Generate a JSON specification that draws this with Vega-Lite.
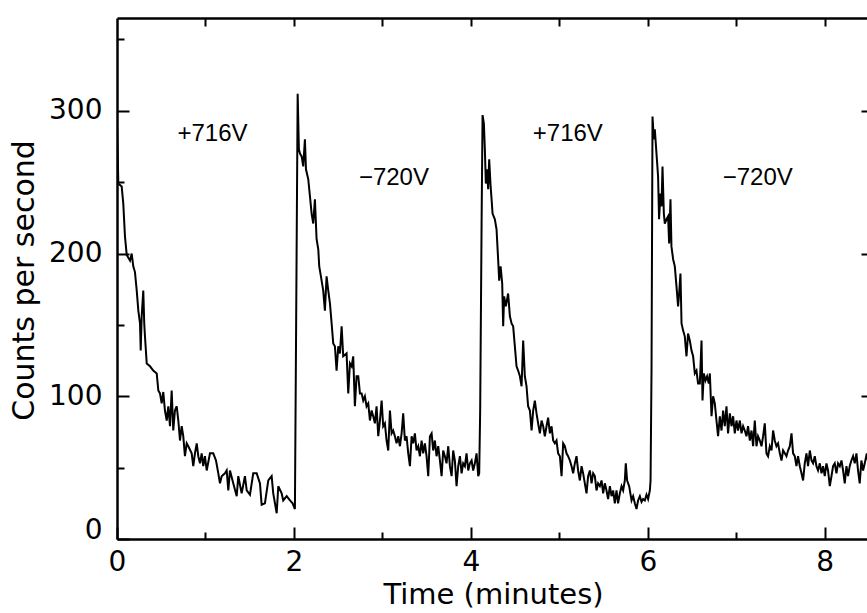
{
  "$schema": "https://vega.github.io/schema/vega-lite/v6.json",
  "autosize": "none",
  "width": 752,
  "height": 521,
  "padding": {"left": 117, "top": 18, "right": 0, "bottom": 74},
  "background": "white",
  "config": {"view": {"stroke": null}},
  "datasets": {
    "series": [
      {"t":0,"c":290},{"t":0.008,"c":270},{"t":0.015,"c":249},{"t":0.053,"c":247},{"t":0.071,"c":235},{"t":0.09,"c":212},{"t":0.11,"c":199},{"t":0.147,"c":195},{"t":0.166,"c":200},{"t":0.184,"c":191},{"t":0.203,"c":187},{"t":0.223,"c":174},{"t":0.241,"c":160},{"t":0.26,"c":151},{"t":0.268,"c":132},{"t":0.279,"c":156},{"t":0.297,"c":174},{"t":0.308,"c":151},{"t":0.316,"c":142},{"t":0.336,"c":123},{"t":0.373,"c":121},{"t":0.41,"c":118},{"t":0.449,"c":116},{"t":0.467,"c":104},{"t":0.486,"c":102},{"t":0.505,"c":95},{"t":0.523,"c":103},{"t":0.542,"c":90},{"t":0.562,"c":83},{"t":0.58,"c":93},{"t":0.599,"c":79},{"t":0.618,"c":104},{"t":0.636,"c":76},{"t":0.655,"c":90},{"t":0.675,"c":93},{"t":0.693,"c":83},{"t":0.712,"c":69},{"t":0.731,"c":79},{"t":0.749,"c":72},{"t":0.768,"c":58},{"t":0.788,"c":67},{"t":0.806,"c":65},{"t":0.844,"c":60},{"t":0.862,"c":51},{"t":0.881,"c":60},{"t":0.901,"c":67},{"t":0.919,"c":58},{"t":0.938,"c":53},{"t":0.957,"c":60},{"t":0.975,"c":51},{"t":0.994,"c":58},{"t":1.014,"c":48},{"t":1.051,"c":60},{"t":1.088,"c":60},{"t":1.119,"c":55},{"t":1.145,"c":46},{"t":1.164,"c":39},{"t":1.183,"c":44},{"t":1.22,"c":46},{"t":1.24,"c":48},{"t":1.258,"c":34},{"t":1.277,"c":48},{"t":1.314,"c":39},{"t":1.353,"c":30},{"t":1.371,"c":44},{"t":1.409,"c":32},{"t":1.446,"c":44},{"t":1.466,"c":34},{"t":1.503,"c":31},{"t":1.54,"c":46},{"t":1.579,"c":46},{"t":1.616,"c":39},{"t":1.635,"c":24},{"t":1.672,"c":25},{"t":1.71,"c":41},{"t":1.748,"c":44},{"t":1.766,"c":32},{"t":1.805,"c":18},{"t":1.823,"c":37},{"t":1.861,"c":32},{"t":1.879,"c":27},{"t":1.918,"c":30},{"t":1.955,"c":27},{"t":1.985,"c":25},{"t":2.011,"c":21},
      {"t":2.042,"c":312},{"t":2.056,"c":273},{"t":2.068,"c":270},{"t":2.087,"c":268},{"t":2.105,"c":261},{"t":2.124,"c":280},{"t":2.136,"c":259},{"t":2.162,"c":252},{"t":2.181,"c":240},{"t":2.2,"c":228},{"t":2.218,"c":221},{"t":2.237,"c":238},{"t":2.256,"c":210},{"t":2.275,"c":203},{"t":2.286,"c":191},{"t":2.305,"c":184},{"t":2.331,"c":174},{"t":2.35,"c":160},{"t":2.369,"c":184},{"t":2.388,"c":174},{"t":2.407,"c":165},{"t":2.426,"c":151},{"t":2.444,"c":137},{"t":2.463,"c":135},{"t":2.482,"c":118},{"t":2.501,"c":135},{"t":2.52,"c":130},{"t":2.539,"c":149},{"t":2.557,"c":128},{"t":2.595,"c":130},{"t":2.614,"c":102},{"t":2.633,"c":123},{"t":2.652,"c":121},{"t":2.67,"c":128},{"t":2.689,"c":93},{"t":2.708,"c":114},{"t":2.727,"c":114},{"t":2.746,"c":102},{"t":2.765,"c":102},{"t":2.783,"c":97},{"t":2.802,"c":100},{"t":2.821,"c":93},{"t":2.84,"c":95},{"t":2.859,"c":83},{"t":2.878,"c":90},{"t":2.896,"c":86},{"t":2.915,"c":81},{"t":2.934,"c":93},{"t":2.953,"c":72},{"t":2.972,"c":83},{"t":2.991,"c":97},{"t":3.009,"c":79},{"t":3.028,"c":81},{"t":3.047,"c":69},{"t":3.066,"c":62},{"t":3.085,"c":90},{"t":3.104,"c":74},{"t":3.122,"c":76},{"t":3.141,"c":72},{"t":3.16,"c":67},{"t":3.179,"c":72},{"t":3.198,"c":65},{"t":3.217,"c":74},{"t":3.235,"c":88},{"t":3.254,"c":69},{"t":3.273,"c":72},{"t":3.292,"c":60},{"t":3.311,"c":51},{"t":3.33,"c":72},{"t":3.348,"c":67},{"t":3.367,"c":74},{"t":3.386,"c":62},{"t":3.405,"c":65},{"t":3.424,"c":58},{"t":3.443,"c":69},{"t":3.461,"c":60},{"t":3.48,"c":67},{"t":3.499,"c":58},{"t":3.518,"c":44},{"t":3.537,"c":72},{"t":3.556,"c":74},{"t":3.574,"c":62},{"t":3.593,"c":69},{"t":3.612,"c":58},{"t":3.631,"c":65},{"t":3.65,"c":55},{"t":3.669,"c":44},{"t":3.687,"c":62},{"t":3.706,"c":58},{"t":3.725,"c":53},{"t":3.744,"c":65},{"t":3.763,"c":51},{"t":3.782,"c":44},{"t":3.8,"c":62},{"t":3.819,"c":55},{"t":3.838,"c":37},{"t":3.857,"c":51},{"t":3.876,"c":58},{"t":3.895,"c":46},{"t":3.913,"c":53},{"t":3.932,"c":51},{"t":3.951,"c":60},{"t":3.97,"c":48},{"t":3.989,"c":53},{"t":4.008,"c":55},{"t":4.026,"c":48},{"t":4.045,"c":53},{"t":4.064,"c":60},{"t":4.083,"c":44},{"t":4.094,"c":46},{"t":4.105,"c":90},{"t":4.121,"c":221},{"t":4.132,"c":297},
      {"t":4.147,"c":291},{"t":4.158,"c":273},{"t":4.169,"c":249},{"t":4.184,"c":259},{"t":4.195,"c":245},{"t":4.207,"c":266},{"t":4.223,"c":247},{"t":4.234,"c":238},{"t":4.245,"c":228},{"t":4.271,"c":224},{"t":4.29,"c":217},{"t":4.308,"c":196},{"t":4.32,"c":181},{"t":4.336,"c":191},{"t":4.354,"c":179},{"t":4.365,"c":149},{"t":4.376,"c":170},{"t":4.395,"c":163},{"t":4.421,"c":172},{"t":4.441,"c":156},{"t":4.46,"c":151},{"t":4.478,"c":149},{"t":4.497,"c":135},{"t":4.516,"c":121},{"t":4.534,"c":118},{"t":4.554,"c":114},{"t":4.573,"c":107},{"t":4.591,"c":139},{"t":4.61,"c":114},{"t":4.629,"c":107},{"t":4.647,"c":93},{"t":4.667,"c":90},{"t":4.686,"c":76},{"t":4.704,"c":90},{"t":4.723,"c":97},{"t":4.742,"c":88},{"t":4.76,"c":81},{"t":4.78,"c":74},{"t":4.799,"c":83},{"t":4.817,"c":79},{"t":4.836,"c":72},{"t":4.855,"c":79},{"t":4.873,"c":85},{"t":4.893,"c":74},{"t":4.912,"c":79},{"t":4.93,"c":69},{"t":4.949,"c":67},{"t":4.968,"c":69},{"t":4.986,"c":60},{"t":5.006,"c":58},{"t":5.025,"c":44},{"t":5.043,"c":67},{"t":5.062,"c":65},{"t":5.081,"c":60},{"t":5.099,"c":58},{"t":5.119,"c":55},{"t":5.138,"c":51},{"t":5.156,"c":46},{"t":5.175,"c":53},{"t":5.194,"c":58},{"t":5.212,"c":48},{"t":5.232,"c":41},{"t":5.251,"c":51},{"t":5.269,"c":46},{"t":5.288,"c":39},{"t":5.307,"c":32},{"t":5.325,"c":44},{"t":5.345,"c":48},{"t":5.364,"c":39},{"t":5.382,"c":46},{"t":5.401,"c":44},{"t":5.42,"c":34},{"t":5.438,"c":39},{"t":5.458,"c":37},{"t":5.477,"c":41},{"t":5.495,"c":32},{"t":5.514,"c":39},{"t":5.533,"c":34},{"t":5.551,"c":28},{"t":5.571,"c":37},{"t":5.59,"c":30},{"t":5.608,"c":34},{"t":5.627,"c":25},{"t":5.646,"c":34},{"t":5.664,"c":25},{"t":5.684,"c":32},{"t":5.703,"c":37},{"t":5.721,"c":34},{"t":5.74,"c":41},{"t":5.751,"c":53},{"t":5.766,"c":41},{"t":5.789,"c":37},{"t":5.816,"c":27},{"t":5.834,"c":30},{"t":5.853,"c":25},{"t":5.872,"c":21},{"t":5.89,"c":27},{"t":5.91,"c":30},{"t":5.929,"c":26},{"t":5.947,"c":28},{"t":5.966,"c":27},{"t":5.985,"c":31},{"t":6.003,"c":28},{"t":6.023,"c":34},{"t":6.031,"c":41},{"t":6.042,"c":120},{"t":6.053,"c":296},
      {"t":6.068,"c":280},{"t":6.079,"c":287},{"t":6.098,"c":270},{"t":6.116,"c":254},{"t":6.127,"c":224},{"t":6.143,"c":242},{"t":6.155,"c":233},{"t":6.166,"c":261},{"t":6.181,"c":228},{"t":6.192,"c":221},{"t":6.211,"c":224},{"t":6.229,"c":226},{"t":6.241,"c":207},{"t":6.256,"c":238},{"t":6.267,"c":205},{"t":6.286,"c":196},{"t":6.305,"c":191},{"t":6.324,"c":177},{"t":6.342,"c":163},{"t":6.354,"c":172},{"t":6.369,"c":186},{"t":6.381,"c":151},{"t":6.399,"c":146},{"t":6.418,"c":142},{"t":6.437,"c":128},{"t":6.455,"c":144},{"t":6.475,"c":139},{"t":6.494,"c":132},{"t":6.512,"c":128},{"t":6.531,"c":116},{"t":6.55,"c":118},{"t":6.568,"c":109},{"t":6.588,"c":109},{"t":6.607,"c":139},{"t":6.618,"c":97},{"t":6.633,"c":116},{"t":6.652,"c":111},{"t":6.67,"c":114},{"t":6.689,"c":109},{"t":6.701,"c":116},{"t":6.72,"c":86},{"t":6.738,"c":100},{"t":6.757,"c":95},{"t":6.776,"c":83},{"t":6.794,"c":72},{"t":6.814,"c":86},{"t":6.833,"c":76},{"t":6.851,"c":90},{"t":6.87,"c":79},{"t":6.889,"c":93},{"t":6.907,"c":74},{"t":6.927,"c":88},{"t":6.946,"c":79},{"t":6.964,"c":86},{"t":6.983,"c":74},{"t":7.002,"c":83},{"t":7.02,"c":76},{"t":7.04,"c":83},{"t":7.059,"c":74},{"t":7.077,"c":79},{"t":7.096,"c":76},{"t":7.115,"c":72},{"t":7.133,"c":79},{"t":7.153,"c":69},{"t":7.172,"c":76},{"t":7.19,"c":65},{"t":7.209,"c":83},{"t":7.228,"c":65},{"t":7.246,"c":72},{"t":7.266,"c":69},{"t":7.285,"c":65},{"t":7.303,"c":72},{"t":7.322,"c":81},{"t":7.341,"c":60},{"t":7.359,"c":58},{"t":7.379,"c":65},{"t":7.398,"c":62},{"t":7.416,"c":76},{"t":7.435,"c":69},{"t":7.454,"c":65},{"t":7.472,"c":67},{"t":7.492,"c":60},{"t":7.511,"c":55},{"t":7.529,"c":62},{"t":7.548,"c":60},{"t":7.567,"c":58},{"t":7.585,"c":62},{"t":7.605,"c":65},{"t":7.624,"c":74},{"t":7.642,"c":60},{"t":7.661,"c":58},{"t":7.68,"c":51},{"t":7.698,"c":58},{"t":7.718,"c":51},{"t":7.737,"c":46},{"t":7.755,"c":41},{"t":7.774,"c":53},{"t":7.793,"c":60},{"t":7.811,"c":51},{"t":7.831,"c":62},{"t":7.85,"c":55},{"t":7.868,"c":53},{"t":7.887,"c":58},{"t":7.906,"c":51},{"t":7.924,"c":48},{"t":7.944,"c":53},{"t":7.963,"c":46},{"t":7.981,"c":51},{"t":8.0,"c":44},{"t":8.019,"c":53},{"t":8.037,"c":48},{"t":8.057,"c":37},{"t":8.076,"c":44},{"t":8.094,"c":51},{"t":8.113,"c":53},{"t":8.132,"c":46},{"t":8.15,"c":53},{"t":8.17,"c":51},{"t":8.189,"c":55},{"t":8.207,"c":48},{"t":8.226,"c":39},{"t":8.245,"c":51},{"t":8.263,"c":44},{"t":8.282,"c":51},{"t":8.301,"c":55},{"t":8.32,"c":58},{"t":8.339,"c":53},{"t":8.358,"c":60},{"t":8.376,"c":48},{"t":8.395,"c":39},{"t":8.414,"c":55},{"t":8.433,"c":48},{"t":8.452,"c":53},{"t":8.475,"c":60},{"t":8.5,"c":50}
    ],
    "labels": [
      {"t":1.079,"c":284,"label":"+716V"},
      {"t":3.13,"c":253,"label":"−720V"},
      {"t":5.096,"c":284,"label":"+716V"},
      {"t":7.243,"c":253,"label":"−720V"}
    ]
  },
  "layer": [
    {
      "data": {"name": "series"},
      "mark": {"type": "line", "color": "black", "strokeWidth": 2, "clip": true},
      "encoding": {
        "x": {"field": "t", "type": "quantitative",
          "scale": {"domain": [0, 8.5], "nice": false, "zero": false},
          "axis": {"orient": "bottom", "values": [0,1,2,3,4,5,6,7,8],
            "labelExpr": "datum.value % 2 === 0 ? datum.label : ''",
            "tickSize": {"condition": {"test": "datum.value % 2 === 0", "value": -12}, "value": -7},
            "labelPadding": 21, "labelFlush": false, "labelOverlap": false,
            "labelFont": "DejaVu Sans", "labelFontSize": 28, "labelColor": "black",
            "domainColor": "black", "domainWidth": 2.5, "tickColor": "black", "tickWidth": 2,
            "grid": false,
            "title": "Time (minutes)", "titleFont": "DejaVu Sans", "titleFontSize": 29, "titleFontWeight": "normal",
            "titleColor": "black", "titleBaseline": "alphabetic", "titleX": 376, "titleY": 64}},
        "y": {"field": "c", "type": "quantitative",
          "scale": {"domain": [0, 365], "nice": false, "zero": false},
          "axis": {"orient": "left", "values": [0,50,100,150,200,250,300,350],
            "labelExpr": "datum.value % 100 === 0 ? datum.label : ''",
            "tickSize": {"condition": {"test": "datum.value % 100 === 0", "value": -12}, "value": -7},
            "labelPadding": 27, "labelFlush": true, "labelFlushOffset": 5, "labelOverlap": false,
            "labelFont": "DejaVu Sans", "labelFontSize": 28, "labelColor": "black",
            "domainColor": "black", "domainWidth": 2.5, "tickColor": "black", "tickWidth": 2,
            "grid": false,
            "title": "Counts per second", "titleFont": "DejaVu Sans", "titleFontSize": 30, "titleFontWeight": "normal",
            "titleColor": "black", "titleBaseline": "alphabetic", "titleAngle": -90, "titleX": -84, "titleY": 262}}
      }
    },
    {
      "data": {"name": "series"},
      "mark": {"type": "line", "opacity": 0},
      "encoding": {
        "x": {"field": "t", "type": "quantitative",
          "axis": {"orient": "top", "values": [1,2,3,4,5,6,7,8], "labels": false, "title": null,
            "tickSize": -8, "domainColor": "black", "domainWidth": 2.5, "tickColor": "black", "tickWidth": 2, "grid": false}},
        "y": {"field": "c", "type": "quantitative",
          "axis": {"orient": "right", "values": [100,200,300], "labels": false, "title": null,
            "tickSize": -8, "domainColor": "black", "domainWidth": 2.5, "tickColor": "black", "tickWidth": 2, "grid": false}}
      }
    },
    {
      "data": {"name": "labels"},
      "mark": {"type": "text", "font": "Liberation Sans", "fontSize": 24, "color": "black", "align": "center", "baseline": "middle"},
      "encoding": {
        "x": {"field": "t", "type": "quantitative", "axis": null},
        "y": {"field": "c", "type": "quantitative", "axis": null},
        "text": {"field": "label"}
      }
    }
  ],
  "resolve": {"axis": {"x": "independent", "y": "independent"}}
}
